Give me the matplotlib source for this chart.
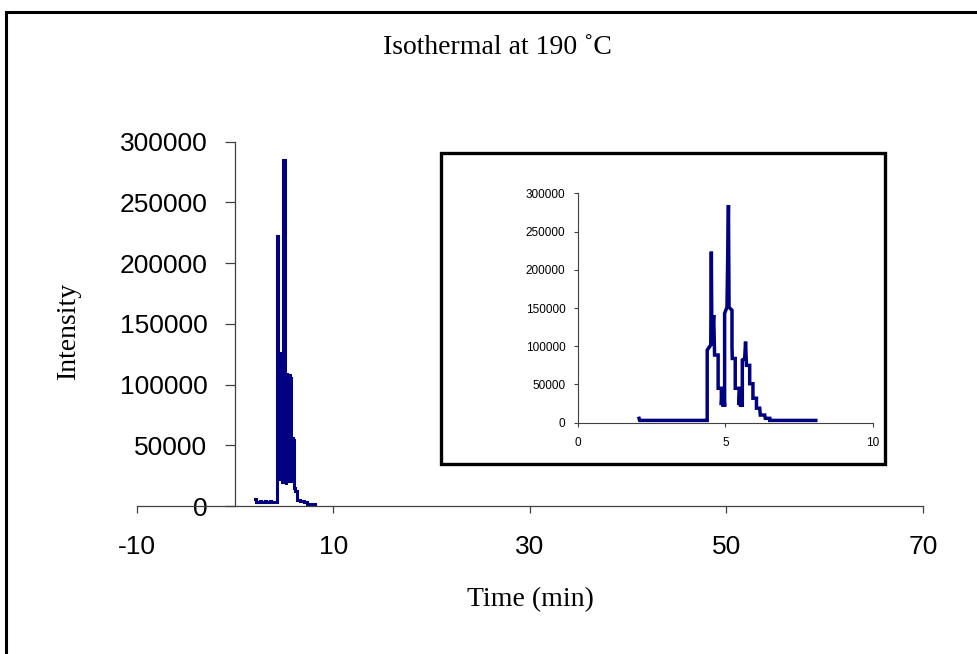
import matplotlib
matplotlib.use("Agg")
import matplotlib.pyplot as plt
from matplotlib.patches import Rectangle

# Main chart trace (time in min, intensity), drawn as steps
main_time = [2.0, 2.15, 2.5, 2.6, 3.0, 3.1, 3.5, 3.6, 4.25, 4.38, 4.42, 4.47, 4.52,
             4.57, 4.62, 4.67, 4.72, 4.77, 4.82, 4.87, 5.05, 5.1, 5.15, 5.2, 5.25,
             5.3, 5.35, 5.4, 5.45, 5.5, 5.55, 5.6, 5.65, 5.7, 5.75, 5.8, 5.85, 5.9,
             5.95, 6.05, 6.3, 6.6, 7.0, 7.3, 8.1]
main_intensity = [5500, 3000, 4200, 3000, 4200, 3000, 4000, 3000, 222000, 25000, 125000,
                  22000, 127000, 30000, 120000, 25000, 125000, 20000, 110000, 285000,
                  20000, 108000, 18000, 109000, 22000, 108000, 25000, 106000, 20000,
                  108000, 28000, 105000, 24000, 55000, 20000, 56000, 25000, 54000,
                  15000, 12000, 5000, 4000, 3000, 2000, 2000]

# Inset trace (zoomed view 0-10 min)
inset_time = [2.07, 2.09, 4.35, 4.38, 4.38, 4.5, 4.52, 4.54, 4.6, 4.63, 4.75, 4.75,
              4.86, 4.86, 4.89, 4.92, 4.95, 4.97, 4.97, 5.05, 5.10, 5.12, 5.22, 5.22,
              5.23, 5.33, 5.33, 5.46, 5.46, 5.49, 5.51, 5.54, 5.57, 5.57, 5.65, 5.68,
              5.71, 5.82, 5.82, 5.93, 5.93, 6.05, 6.05, 6.16, 6.18, 6.33, 6.35, 6.5,
              6.5, 8.06]
inset_intensity = [5700, 3000, 3000, 3000, 95000, 101600, 223700, 101000, 140800, 88500,
                   88500, 45000, 45000, 23000, 45000, 21000, 34000, 21000, 143000,
                   151000, 284700, 151000, 147000, 99000, 84000, 84000, 45000, 45000,
                   23000, 45000, 21000, 34000, 21000, 82000, 84000, 106000, 75000,
                   75000, 51000, 51000, 32000, 32000, 19000, 19000, 10000, 10000,
                   5700, 5700, 3000, 3000]

x_ticks = [-10, 10, 30, 50, 70]
y_ticks = [0, 50000, 100000, 150000, 200000, 250000, 300000]
inset_x_ticks = [0, 5, 10]

LINE = "#000080"
AXIS = "#404040"
SERIF = "Liberation Serif"
SANS = "Liberation Sans"

plt.rcParams["axes.unicode_minus"] = False

W, H = 978, 654
fig = plt.figure(figsize=(W / 100, H / 100), dpi=100)

# Main axes
ax = fig.add_axes([137 / W, 1 - 506 / H, (923 - 137) / W, (506 - 141.7) / H])
ax.plot(main_time, main_intensity, color=LINE, lw=2.2, drawstyle="steps-post",
        solid_joinstyle="miter")
ax.set_xlim(-10, 70)
ax.set_ylim(0, 300000)
ax.spines["left"].set_position(("data", 0))
ax.spines["top"].set_visible(False)
ax.spines["right"].set_visible(False)
for s in ("left", "bottom"):
    ax.spines[s].set_color(AXIS)
    ax.spines[s].set_linewidth(0.9)
ax.set_xticks(x_ticks)
ax.set_yticks(y_ticks)
ax.tick_params(axis="x", direction="out", length=5, width=0.9, color=AXIS, pad=16)
ax.tick_params(axis="y", direction="out", length=7, width=0.9, color=AXIS, pad=13)
for lab in ax.get_xticklabels() + ax.get_yticklabels():
    lab.set_fontfamily(SANS)
    lab.set_fontsize(19)
ax.patch.set_alpha(0)

# Inset frame
fig.patches.append(Rectangle((441 / W, 1 - 464 / H), (885 - 441) / W, (464 - 153) / H,
                             transform=fig.transFigure, fill=False, ec="black", lw=2.4))

# Inset axes
ins = fig.add_axes([578 / W, 1 - 422.7 / H, (873 - 578) / W, (422.7 - 193.3) / H])
ins.plot(inset_time, inset_intensity, color=LINE, lw=2.5, solid_joinstyle="miter")
ins.set_xlim(0, 10)
ins.set_ylim(0, 300000)
ins.spines["top"].set_visible(False)
ins.spines["right"].set_visible(False)
for s in ("left", "bottom"):
    ins.spines[s].set_color(AXIS)
    ins.spines[s].set_linewidth(0.8)
ins.set_xticks(inset_x_ticks)
ins.set_yticks(y_ticks)
ins.tick_params(axis="x", direction="out", length=3, width=0.8, color=AXIS, pad=7)
ins.tick_params(axis="y", direction="out", length=3, width=0.8, color=AXIS, pad=6)
for lab in ins.get_xticklabels() + ins.get_yticklabels():
    lab.set_fontfamily(SANS)
    lab.set_fontsize(8.5)
ins.patch.set_alpha(0)

# Texts
fig.text(497 / W, 1 - 47 / H, "Isothermal at 190 ˚C", family=SERIF, fontsize=20,
         ha="center", va="center")
fig.text(68 / W, 1 - 330 / H, "Intensity", family=SERIF, fontsize=20, rotation=90,
         ha="center", va="center")
fig.text(530 / W, 1 - 600 / H, "Time (min)", family=SERIF, fontsize=20,
         ha="center", va="center")

# Outer chart border (only top and left edges visible)
fig.patches.append(Rectangle((6.5 / W, -0.05), 1.1, 1 - 11.5 / H + 0.05,
                             transform=fig.transFigure, fill=False, ec="black", lw=2.2))

fig.savefig("out.png", dpi=100)
